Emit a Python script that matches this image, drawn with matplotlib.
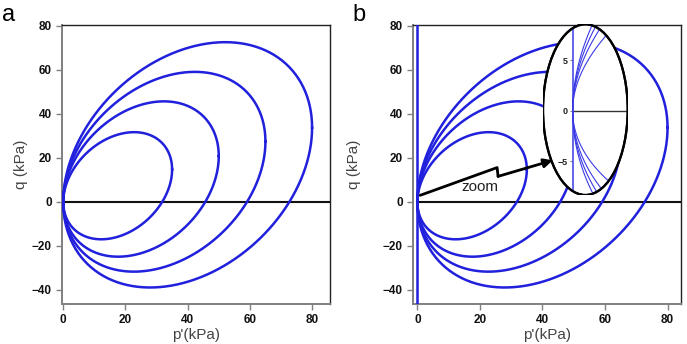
import numpy as np
import matplotlib
matplotlib.use("Agg")
import matplotlib.pyplot as plt
from matplotlib.patches import Ellipse

plt.rcParams['font.family'] = ['Liberation Sans', 'DejaVu Sans']

# extremes of the four stress-path loops
p_right = [35, 50, 65, 80]            # p' (kPa) at the right-most point of each loop
q_top = [31.7, 45.7, 59.1, 72.6]      # largest q (kPa)
q_bottom = [-17.0, -24.9, -31.7, -38.9]  # smallest q (kPa)

x_ticks = [0, 20, 40, 60, 80]
y_ticks = [-40, -20, 0, 20, 40, 60, 80]
inset_ticks = [-5, 0, 5]

blue = '#2020dd'


def loop(pr, qt, qb, n=400):
    # ellipse through the origin (vertical tangent there) with the read extremes
    cp = pr / 2.0
    cq = (qt + qb) / 2.0
    r = (qt - qb) / 2.0
    b = np.sqrt(r**2 - cq**2)
    t = np.linspace(0, 2 * np.pi, n)
    return cp + cp * np.cos(t), cq + cq * np.cos(t) + b * np.sin(t)


def style(ax, xlim, ypad):
    ax.set_xlim(*xlim)
    ax.set_ylim(-46.4, 80.4)
    ax.set_xticks(x_ticks)
    ax.set_yticks(y_ticks)
    for s in ['left', 'bottom']:
        ax.spines[s].set_color('#808080')
        ax.spines[s].set_linewidth(1.4)
    for s in ['top', 'right']:
        ax.spines[s].set_color('#222222')
        ax.spines[s].set_linewidth(1.0)
    ax.tick_params(direction='out', length=4, color='#808080', width=1,
                   labelsize=8.5, labelcolor='#111111', pad=3)
    for lab in ax.get_xticklabels() + ax.get_yticklabels():
        lab.set_fontweight('bold')
    ax.set_xlabel("p'(kPa)", fontsize=11, color='#444444', labelpad=2)
    ax.set_ylabel("q (kPa)", fontsize=11, color='#444444', labelpad=ypad)


fig = plt.figure(figsize=(6.87, 3.44), dpi=100)
ax_a = fig.add_axes([0.0898, 0.1163, 0.3905, 0.811])
ax_b = fig.add_axes([0.6007, 0.1163, 0.3901, 0.811])

for ax in [ax_a, ax_b]:
    ax.plot([0, 86], [0, 0], color='#111111', lw=1.5, zorder=2)
    for pr, qt, qb in zip(p_right, q_top, q_bottom):
        p, q = loop(pr, qt, qb)
        ax.plot(p, q, color=blue, lw=1.8, zorder=3)

style(ax_a, (-0.5, 85.75), 3)
style(ax_b, (-1.5, 84.2), 16)
ax_b.axvline(0, color=blue, lw=1.8, zorder=3)

fig.text(0.003, 0.955, 'a', fontsize=17, va='center', ha='left')
fig.text(0.513, 0.955, 'b', fontsize=17, va='center', ha='left')

# zoom arrow
ax_b.plot([0.9, 25.5, 25.8], [3.0, 15.6, 11.6], color='black', lw=2,
          solid_capstyle='round', solid_joinstyle='round', zorder=5)
ax_b.annotate('', xy=(43.3, 18.9), xytext=(25.8, 11.6),
              arrowprops=dict(arrowstyle='-|>', lw=2, color='black',
                              mutation_scale=13, shrinkA=0, shrinkB=0),
              zorder=5)
ax_b.text(19.9, 7.0, 'zoom', fontsize=11, color='#222222',
          ha='center', va='center', zorder=5)

# elliptical inset
ax_in = fig.add_axes([0.7904, 0.4331, 0.1233, 0.4962])
ax_in.patch.set_visible(False)
ell = Ellipse((0.5, 0.5), 1, 1, transform=ax_in.transAxes,
              facecolor='white', edgecolor='black', lw=1.6, zorder=0)
ax_in.add_patch(ell)
ax_in.set_xlim(-0.74, 1.375)
ax_in.set_ylim(-8.35, 8.55)
line = ax_in.plot([0, 2], [0, 0], color='#333333', lw=1.0, zorder=2)[0]
line.set_clip_path(ell)
line = ax_in.axvline(0, color='#4a4ae6', lw=1.2, zorder=2)
line.set_clip_path(ell)
for pr, qt, qb in zip(p_right, q_top, q_bottom):
    p, q = loop(pr, qt, qb, n=4000)
    line = ax_in.plot(p, q, color='#3a3ae6', lw=0.8, zorder=3)[0]
    line.set_clip_path(ell)
ax_in.add_patch(Ellipse((0.5, 0.5), 1, 1, transform=ax_in.transAxes,
                        facecolor='none', edgecolor='black', lw=1.6, zorder=4))
for s in ax_in.spines.values():
    s.set_visible(False)
ax_in.spines['left'].set_position(('data', 0))
ax_in.set_xticks([])
ax_in.set_yticks(inset_ticks)
ax_in.tick_params(axis='y', direction='out', length=2.5, color='#808080',
                  labelsize=6.5, labelcolor='#222222', pad=1)
for lab in ax_in.get_yticklabels():
    lab.set_fontweight('bold')

fig.savefig('out.png', dpi=100)
